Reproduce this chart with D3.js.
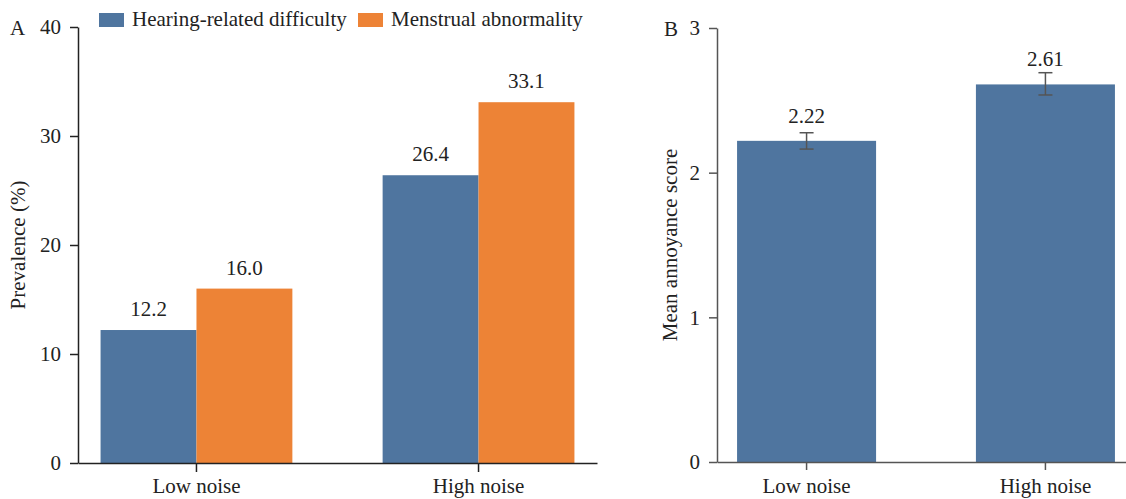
<!DOCTYPE html>
<html>
<head>
<meta charset="utf-8">
<script src="https://cdn.jsdelivr.net/npm/d3@7"></script>
<style>
  html, body { margin: 0; padding: 0; background: #fff; }
  svg text { font-family: "Liberation Serif", "Times New Roman", serif; fill: #222; }
</style>
</head>
<body>
<svg id="chart" width="1126" height="499"></svg>
<script>
// ---- Data ----
const groups = ["Low noise", "High noise"];
const seriesA = ["Hearing-related difficulty", "Menstrual abnormality"];
const hearingValues = [12.2, 26.4];
const menstrualValues = [16.0, 33.1];
const ticksA = [0, 10, 20, 30, 40];

const annoyanceMean = [2.22, 2.61];
const annoyanceLower = [2.163, 2.537];
const annoyanceUpper = [2.276, 2.691];
const ticksB = [0, 1, 2, 3];

const colors = ["#4f759f", "#ed8336"];

const svg = d3.select("#chart");
const FS = 21;
const FONT = '"Liberation Serif", "Times New Roman", serif';

// ---- Panel A ----
const xA = d3.scaleBand().domain(groups).range([78, 597]).paddingInner(0.32).paddingOuter(0.08);
const xAin = d3.scaleBand().domain(seriesA).range([0, xA.bandwidth()]);
const yA = d3.scaleLinear().domain([0, 40]).range([463, 27]);

const dataA = groups.map((g, i) => ({ group: g, values: [hearingValues[i], menstrualValues[i]] }));

const gA = svg.append("g");
const grpA = gA.selectAll("g.grp").data(dataA).join("g")
  .attr("transform", d => `translate(${xA(d.group)},0)`);
grpA.selectAll("rect").data(d => d.values.map((v, j) => ({ s: seriesA[j], v, j })))
  .join("rect")
  .attr("x", d => xAin(d.s))
  .attr("y", d => yA(d.v))
  .attr("width", xAin.bandwidth())
  .attr("height", d => yA(0) - yA(d.v))
  .attr("fill", d => colors[d.j]);
grpA.selectAll("text.val").data(d => d.values.map((v, j) => ({ s: seriesA[j], v, j })))
  .join("text")
  .attr("class", "val")
  .attr("x", d => xAin(d.s) + xAin.bandwidth() / 2)
  .attr("y", d => yA(d.v) - 14)
  .attr("text-anchor", "middle")
  .attr("font-size", FS)
  .text(d => d.v.toFixed(1));

function styleAxis(g, color) {
  g.attr("font-family", null).attr("font-size", null);
  g.selectAll("path.domain").attr("stroke", color).attr("stroke-width", 1.5);
  g.selectAll(".tick line").attr("stroke", color).attr("stroke-width", 1.5);
  g.selectAll(".tick text").attr("font-size", FS).style("font-family", FONT).style("fill", "#222");
}

const axA_y = gA.append("g").attr("transform", "translate(78,0)")
  .call(d3.axisLeft(yA).tickValues(ticksA).tickSize(8).tickSizeOuter(0).tickPadding(9).tickFormat(d3.format("d")));
styleAxis(axA_y, "#222");
const axA_x = gA.append("g").attr("transform", `translate(0,${yA(0)})`)
  .call(d3.axisBottom(xA).tickSize(9).tickSizeOuter(0).tickPadding(8));
styleAxis(axA_x, "#222");
axA_x.selectAll(".tick text").attr("dy", null).attr("y", 30);

gA.append("text")
  .attr("transform", `translate(25,${(yA(0) + yA(40)) / 2}) rotate(-90)`)
  .attr("text-anchor", "middle")
  .attr("font-size", FS)
  .text("Prevalence (%)");

gA.append("text").attr("x", 10).attr("y", 35).attr("font-size", FS).text("A");

// Legend
const legend = gA.append("g");
const legX = [99, 358];
seriesA.forEach((s, j) => {
  legend.append("rect").attr("x", legX[j]).attr("y", 13).attr("width", 25).attr("height", 14).attr("fill", colors[j]);
  legend.append("text").attr("x", legX[j] + 33).attr("y", 26).attr("font-size", FS).text(s);
});

// ---- Panel B ----
const xB = d3.scaleBand().domain(groups).range([717, 1135]).paddingInner(0.418).paddingOuter(0.084);
const yB = d3.scaleLinear().domain([0, 3]).range([462, 28]);

const dataB = groups.map((g, i) => ({ group: g, mean: annoyanceMean[i], lo: annoyanceLower[i], hi: annoyanceUpper[i] }));
const gB = svg.append("g");

gB.selectAll("rect.bar").data(dataB).join("rect")
  .attr("class", "bar")
  .attr("x", d => xB(d.group))
  .attr("y", d => yB(d.mean))
  .attr("width", xB.bandwidth())
  .attr("height", d => yB(0) - yB(d.mean))
  .attr("fill", colors[0]);

const err = gB.selectAll("g.err").data(dataB).join("g").attr("class", "err");
err.append("line")
  .attr("x1", d => xB(d.group) + xB.bandwidth() / 2)
  .attr("x2", d => xB(d.group) + xB.bandwidth() / 2)
  .attr("y1", d => yB(d.lo)).attr("y2", d => yB(d.hi))
  .attr("stroke", "#555").attr("stroke-width", 1.5);
["lo", "hi"].forEach(k => {
  err.append("line")
    .attr("x1", d => xB(d.group) + xB.bandwidth() / 2 - 7)
    .attr("x2", d => xB(d.group) + xB.bandwidth() / 2 + 7)
    .attr("y1", d => yB(d[k])).attr("y2", d => yB(d[k]))
    .attr("stroke", "#555").attr("stroke-width", 1.5);
});

gB.selectAll("text.val").data(dataB).join("text")
  .attr("class", "val")
  .attr("x", d => xB(d.group) + xB.bandwidth() / 2)
  .attr("y", d => yB(d.mean) - 18)
  .attr("text-anchor", "middle")
  .attr("font-size", FS)
  .text(d => d.mean.toFixed(2));

const axB_y = gB.append("g").attr("transform", "translate(717,0)")
  .call(d3.axisLeft(yB).tickValues(ticksB).tickSize(8).tickSizeOuter(0).tickPadding(9).tickFormat(d3.format("d")));
styleAxis(axB_y, "#555");
const axB_x = gB.append("g").attr("transform", `translate(0,${yB(0)})`)
  .call(d3.axisBottom(xB).tickSize(8).tickSizeOuter(0).tickPadding(8));
styleAxis(axB_x, "#555");
axB_x.selectAll(".tick text").attr("dy", null).attr("y", 31);

gB.append("text")
  .attr("transform", `translate(677,${(yB(0) + yB(3)) / 2}) rotate(-90)`)
  .attr("text-anchor", "middle")
  .attr("font-size", FS)
  .text("Mean annoyance score");

gB.append("text").attr("x", 664).attr("y", 36).attr("font-size", FS).text("B");

svg.selectAll("text").style("font-family", FONT);
</script>
</body>
</html>
